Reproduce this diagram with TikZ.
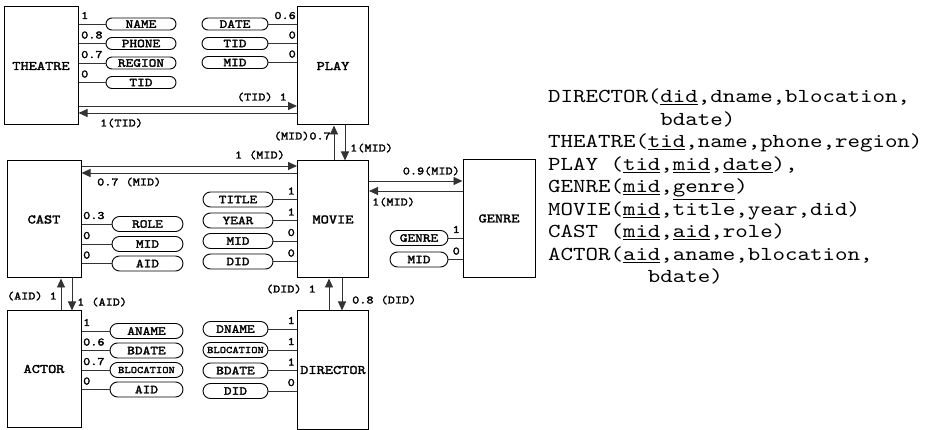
\documentclass[tikz,border=0pt]{standalone}
\usepackage{fontspec}
\usetikzlibrary{shapes.misc,arrows.meta}
\newfontfamily\cmono{lmmono10-regular.otf}[FakeStretch=1.2]
\newfontfamily\cmonob{lmmono10-regular.otf}[FakeStretch=1.2, FakeBold=2.2]
\newcommand{\smallattr}[1]{{\fontsize{10}{11}\selectfont #1}}
\tikzset{
  ent/.style={draw, line width=1pt, inner sep=0, font=\cmonob\fontsize{13}{14}\selectfont},
  attr/.style={draw, rounded rectangle, line width=0.9pt, inner sep=0, minimum height=15, font=\cmonob\fontsize{12.2}{13}\selectfont},
  sattr/.style={attr, minimum height=12},
  lbl/.style={inner sep=0, font=\cmonob\fontsize{11.3}{12}\selectfont},
  lw/.style={lbl, anchor=base west},
  le/.style={lbl, anchor=base east},
  conn/.style={line width=0.9pt, draw=black!80},
  arr/.style={conn, -{Triangle[length=9pt,width=8pt]}},
  sch/.style={inner sep=0, anchor=base west, font=\cmono\fontsize{19.8}{22.5}\selectfont},
}
\begin{document}
\begin{tikzpicture}[x=1pt,y=-1pt]
\useasboundingbox (0,0) rectangle (929,430);
% entities
\node[ent, minimum width=74, minimum height=118] (theatre) at (41,66) {THEATRE};
\node[ent, minimum width=71, minimum height=118] (play) at (333,66) {PLAY};
\node[ent, minimum width=74, minimum height=117] (cast) at (44,219.5) {CAST};
\node[ent, minimum width=71, minimum height=117] (movie) at (333,219.5) {MOVIE};
\node[ent, minimum width=72, minimum height=118] (genre) at (499,218.5) {GENRE};
\node[ent, minimum width=74, minimum height=116] (actor) at (44,369) {ACTOR};
\node[ent, minimum width=71, minimum height=118] (director) at (333,370) {DIRECTOR};
% THEATRE attributes
\node[sattr, minimum width=70] (tname) at (141,24) {NAME};
\node[sattr, minimum width=70] (tphone) at (141,43.5) {PHONE};
\node[sattr, minimum width=70] (tregion) at (141,63) {REGION};
\node[sattr, minimum width=70] (ttid) at (141,82.5) {TID};
\foreach \a in {tname,tphone,tregion,ttid} \draw[conn] (theatre.east |- \a) -- (\a.west);
\node[lw] (ltname) at (81,19) {1};
\node[lw] (ltphone) at (81,38.5) {0.8};
\node[lw] (ltregion) at (81,58) {0.7};
\node[lw] (ltttid) at (81,77.5) {0};
% PLAY attributes
\node[sattr, minimum width=66] (pdate) at (235,24) {DATE};
\node[sattr, minimum width=66] (ptid) at (235,43.5) {TID};
\node[sattr, minimum width=66] (pmid) at (235,62.5) {MID};
\foreach \a in {pdate,ptid,pmid} \draw[conn] (\a.east) -- (play.west |- \a);
\node[le] (lpdate) at (296,19) {0.6};
\node[le] (lptid) at (296,38.5) {0};
\node[le] (lpmid) at (296,57.5) {0};
% CAST attributes
\node[attr, minimum width=71] (crole) at (147.5,224) {ROLE};
\node[attr, minimum width=71] (cmid) at (147.5,244) {MID};
\node[attr, minimum width=71] (caid) at (147.5,263.5) {AID};
\foreach \a in {crole,cmid,caid} \draw[conn] (cast.east |- \a) -- (\a.west);
\node[lw] (lcrole) at (83,219) {0.3};
\node[lw] (lcmid) at (83,239) {0};
\node[lw] (lcaid) at (83,258.5) {0};
% MOVIE attributes
\node[attr, minimum width=70] (mtitle) at (238,199.5) {TITLE};
\node[attr, minimum width=70] (myear) at (238,220.5) {YEAR};
\node[attr, minimum width=70] (mmid) at (238,241) {MID};
\node[attr, minimum width=70] (mdid) at (238,261.5) {DID};
\foreach \a in {mtitle,myear,mmid,mdid} \draw[conn] (\a.east) -- (movie.west |- \a);
\node[le] (lmtitle) at (295,194.5) {1};
\node[le] (lmyear) at (295,215.5) {1};
\node[le] (lmmid) at (295,236) {0};
\node[le] (lmdid) at (295,256.5) {0};
% GENRE attributes
\node[attr, minimum width=58] (ggenre) at (419,238) {GENRE};
\node[attr, minimum width=58] (gmid) at (419,259.5) {MID};
\foreach \a in {ggenre,gmid} \draw[conn] (\a.east) -- (genre.west |- \a);
\node[le] (lggenre) at (460,233) {1};
\node[le] (lgmid) at (460,254.5) {0};
% ACTOR attributes
\node[attr, minimum width=73] (aname) at (146.5,331) {ANAME};
\node[attr, minimum width=73] (abdate) at (146.5,350.5) {BDATE};
\node[attr, minimum width=73] (abloc) at (146.5,370) {\smallattr{BLOCATION}};
\node[attr, minimum width=73] (aaid) at (146.5,389.5) {AID};
\foreach \a in {aname,abdate,abloc,aaid} \draw[conn] (actor.east |- \a) -- (\a.west);
\node[lw] (laname) at (83,326) {1};
\node[lw] (labdate) at (83,345.5) {0.6};
\node[lw] (labloc) at (83,365) {0.7};
\node[lw] (laaid) at (83,384.5) {0};
% DIRECTOR attributes
\node[attr, minimum width=65] (dname) at (235.5,329) {DNAME};
\node[attr, minimum width=65] (dbloc) at (235.5,350) {\smallattr{BLOCATION}};
\node[attr, minimum width=65] (dbdate) at (235.5,370.5) {BDATE};
\node[attr, minimum width=65] (ddid) at (235.5,391) {DID};
\foreach \a in {dname,dbloc,dbdate,ddid} \draw[conn] (\a.east) -- (director.west |- \a);
\node[le] (ldname) at (295,324) {1};
\node[le] (ldbloc) at (295,345) {1};
\node[le] (ldbdate) at (295,365.5) {1};
\node[le] (lddid) at (295,386) {0};
% relationships
\draw[arr] ([yshift=-40]theatre.east) coordinate (t1) -- (t1 -| play.west);
\draw[arr] ([yshift=-47]play.west) coordinate (t2) -- (t2 -| theatre.east);
\draw[arr] ([xshift=1]movie.north) coordinate (p1) -- (p1 |- play.south);
\draw[arr] ([xshift=12]play.south) coordinate (p2) -- (p2 |- movie.north);
\draw[arr] ([yshift=53.5]cast.east) coordinate (c1) -- (c1 -| movie.west);
\draw[arr] ([yshift=46.5]movie.west) coordinate (c2) -- (c2 -| cast.east);
\draw[arr] ([yshift=38.5]movie.east) coordinate (g1) -- (g1 -| genre.west);
\draw[arr] ([yshift=27.5]genre.west) coordinate (g2) -- (g2 -| movie.east);
\draw[arr] ([xshift=17]actor.north) coordinate (a1) -- (a1 |- cast.south);
\draw[arr] ([xshift=28]cast.south) coordinate (a2) -- (a2 |- actor.north);
\draw[arr] ([xshift=-4]director.north) coordinate (d1) -- (d1 |- movie.south);
\draw[arr] ([xshift=9]movie.south) coordinate (d2) -- (d2 |- director.north);
% relationship labels
\node[le] (r1) at (287,100.5) {(TID) 1};
\node[lw] (r2) at (100,126.5) {1(TID)};
\node[le] (r3) at (331,139.5) {(MID)0.7};
\node[lw] (r4) at (350,151.5) {1(MID)};
\node[le] (r5) at (285,158.5) {1 (MID)};
\node[lw] (r6) at (97,185.5) {0.7 (MID)};
\node[le] (r7) at (460,174.5) {0.9(MID)};
\node[lw] (r8) at (372,205.5) {1(MID)};
\node[le] (r9) at (57,299.5) {(AID) 1};
\node[lw] (r10) at (77,305.5) {1 (AID)};
\node[le] (r11) at (316,292.5) {(DID) 1};
\node[lw] (r12) at (352,303.5) {0.8 (DID)};
% schema text
\node[sch] (l1) at (548,103) {DIRECTOR(\underline{did},dname,blocation,};
\node[sch] (l2) at (548,125.5) {\phantom{DIRECTOR(}bdate)};
\node[sch] (l3) at (548,148) {THEATRE(\underline{tid},name,phone,region)};
\node[sch] (l4) at (548,170.5) {PLAY (\underline{tid},\underline{mid},\underline{date}),};
\node[sch] (l5) at (548,193) {GENRE(\underline{mid},\underline{genre})};
\node[sch] (l6) at (548,215.5) {MOVIE(\underline{mid},title,year,did)};
\node[sch] (l7) at (548,238) {CAST (\underline{mid},\underline{aid},role)};
\node[sch] (l8) at (548,260.5) {ACTOR(\underline{aid},aname,blocation,};
\node[sch] (l9) at (548,283) {\phantom{ACTOR(ai}bdate)};
\end{tikzpicture}
\end{document}
